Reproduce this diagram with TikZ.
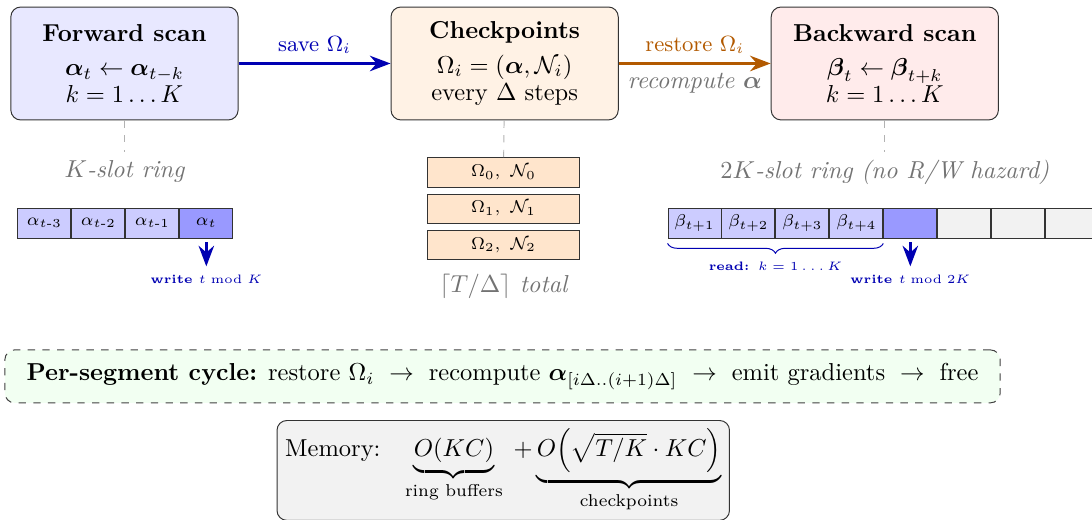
\documentclass[tikz,border=0pt]{standalone}
\usepackage{amssymb}
\usepackage{amsmath}
\usepackage{xcolor}
\usetikzlibrary{positioning,arrows.meta,decorations.pathreplacing}

\begin{document}
\begin{tikzpicture}[
    stage/.style={draw=black!80, rounded corners=4pt, minimum width=3.26cm, minimum height=1.62cm, align=center},
    cell/.style={draw=black!80, minimum width=0.76cm, minimum height=0.43cm, inner sep=0pt, font=\scriptsize},
    ckbox/.style={draw=black!80, fill=orange!20, minimum width=2.17cm, minimum height=0.42cm, inner sep=0pt, font=\scriptsize},
    note/.style={text=black!55, font=\itshape},
    link/.style={dashed, black!30},
    wr/.style={-{Stealth}, very thick, blue!70!black, shorten <=1.5pt},
    wrlab/.style={text=blue!70!black, font=\tiny\bfseries}
]
    \useasboundingbox (0,0) rectangle (15.667,-7.46);

    \node[stage, fill=blue!9] (fwd) at (1.786,-0.911)
        {\textbf{Forward scan}\\[2pt] $\boldsymbol{\alpha}_t \leftarrow \boldsymbol{\alpha}_{t-k}$\\[-1pt] $k=1\ldots K$};
    \node[stage, fill=orange!10, right=2.18cm of fwd] (ckpt)
        {\textbf{Checkpoints}\\[2pt] $\Omega_i=(\boldsymbol{\alpha},\mathcal{N}_i)$\\[-1pt] every $\Delta$ steps};
    \node[stage, fill=red!8, right=2.18cm of ckpt] (bwd)
        {\textbf{Backward scan}\\[2pt] $\boldsymbol{\beta}_t \leftarrow \boldsymbol{\beta}_{t+k}$\\[-1pt] $k=1\ldots K$};

    \draw[-{Stealth}, very thick, blue!70!black] (fwd) -- node[above, font=\small] (savelab) {save $\Omega_i$} (ckpt);
    \draw[-{Stealth}, very thick, orange!70!black] (ckpt) -- node[above, font=\small] (restlab) {restore $\Omega_i$}
        node[below, note] (reclab) {recompute $\boldsymbol{\alpha}$} (bwd);

    % forward ring
    \node[note, below=0.45cm of fwd] (fwdlab) {$K$-slot ring};
    \draw[link] (fwd) -- (fwdlab);
    \node[cell, fill=blue!20] (a1) at (0.638,-3.2) {$\alpha_{t\text{-}3}$};
    \node[cell, fill=blue!20, right=0pt of a1] (a2) {$\alpha_{t\text{-}2}$};
    \node[cell, fill=blue!20, right=0pt of a2] (a3) {$\alpha_{t\text{-}1}$};
    \node[cell, fill=blue!40, right=0pt of a3] (a4) {$\alpha_t$};
    \node[wrlab, below=0.4cm of a4] (wa) {write $t \bmod K$};
    \draw[wr] (a4) -- (wa);

    % checkpoint stack
    \node[ckbox] (c0) at (7.224,-2.475) {$\Omega_0,\ \mathcal{N}_0$};
    \node[ckbox, below=0.086cm of c0] (c1) {$\Omega_1,\ \mathcal{N}_1$};
    \node[ckbox, below=0.086cm of c1] (c2) {$\Omega_2,\ \mathcal{N}_2$};
    \node[note, below=0.08cm of c2] (cklab) {$\lceil T/\Delta\rceil$ total};
    \draw[link] (ckpt) -- (c0);

    % backward ring
    \node[note, below=0.45cm of bwd] (bwdlab) {$2K$-slot ring (no R/W hazard)};
    \draw[link] (bwd) -- (bwdlab);
    \node[cell, fill=blue!20] (b1) at (9.964,-3.2) {$\beta_{t+1}$};
    \node[cell, fill=blue!20, right=0pt of b1] (b2) {$\beta_{t+2}$};
    \node[cell, fill=blue!20, right=0pt of b2] (b3) {$\beta_{t+3}$};
    \node[cell, fill=blue!20, right=0pt of b3] (b4) {$\beta_{t+4}$};
    \node[cell, fill=blue!40, right=0pt of b4] (b5) {};
    \node[cell, fill=gray!10, right=0pt of b5] (b6) {};
    \node[cell, fill=gray!10, right=0pt of b6] (b7) {};
    \node[cell, fill=gray!10, right=0pt of b7] (b8) {};
    \draw[decorate, decoration={brace, mirror, amplitude=4pt}, blue!70!black]
        ([yshift=-2pt]b1.south west) -- ([yshift=-2pt]b4.south east)
        node[midway, below=4pt, wrlab] (readlab) {read: $k=1\ldots K$};
    \node[wrlab, below=0.4cm of b5] (wb) {write $t \bmod 2K$};
    \draw[wr] (b5) -- (wb);

    % cycle and memory
    \node[draw=black!75, dashed, rounded corners=4pt, fill=green!5, minimum width=14.28cm, minimum height=0.76cm] (cyc) at (7.21,-5.40)
        {\textbf{Per-segment cycle:} restore $\Omega_i$ $\;\rightarrow\;$ recompute $\boldsymbol{\alpha}_{[i\Delta..(i+1)\Delta]}$ $\;\rightarrow\;$ emit gradients $\;\rightarrow\;$ free};
    \node[draw=black!80, rounded corners=4pt, fill=gray!10, minimum width=6.4cm, anchor=north] (mem) at (7.22,-6.026)
        {Memory:\quad $\underbrace{O(KC)}_{\text{ring buffers}}\;{+}\underbrace{O\Big(\sqrt{T/K}\cdot KC\Big)}_{\text{checkpoints}}$};
\end{tikzpicture}
\end{document}
